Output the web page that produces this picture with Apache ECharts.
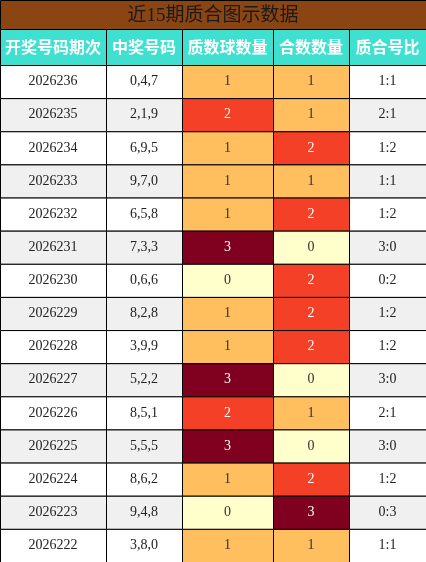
<!DOCTYPE html>
<html><head><meta charset="utf-8">
<script src="https://cdn.jsdelivr.net/npm/echarts@6/dist/echarts.min.js"></script>
<style>html,body{margin:0;padding:0;background:#fff}#c{width:426px;height:562px}</style>
</head><body><div id="c"></div>
<script>
const titleText = '近15期质合图示数据';
const headers = ['开奖号码期次','中奖号码','质数球数量','合数数量','质合号比'];
const periods = ['2026236','2026235','2026234','2026233','2026232','2026231','2026230','2026229','2026228','2026227','2026226','2026225','2026224','2026223','2026222'];
const numbers = ['0,4,7','2,1,9','6,9,5','9,7,0','6,5,8','7,3,3','0,6,6','8,2,8','3,9,9','5,2,2','8,5,1','5,5,5','8,6,2','9,4,8','3,8,0'];
const primeCounts = [1,2,1,1,1,3,0,1,1,3,2,3,1,0,1];
const compositeCounts = [1,1,2,1,2,0,2,2,2,0,1,0,2,3,1];
const ratios = ['1:1','2:1','1:2','1:1','1:2','3:0','0:2','1:2','1:2','3:0','2:1','3:0','1:2','0:3','1:1'];

const colEdges = [0,106,182,273,349,426];
const headerH = 36/33.13;
const countColor = {0:'#FFFFCC',1:'#FFBF5F',2:'#F44027',3:'#800020'};
const countText = {0:'#333',1:'#333',2:'#fff',3:'#fff'};

const data = [];
headers.forEach((h,c)=>data.push([c,-1,h,'#40E0D0','#fff',true]));
periods.forEach((p,r)=>{
  const bg = r%2===0?'#ffffff':'#F0F0F0';
  data.push([0,r,p,bg,'#222',false]);
  data.push([1,r,numbers[r],bg,'#222',false]);
  data.push([2,r,String(primeCounts[r]),countColor[primeCounts[r]],countText[primeCounts[r]],false]);
  data.push([3,r,String(compositeCounts[r]),countColor[compositeCounts[r]],countText[compositeCounts[r]],false]);
  data.push([4,r,ratios[r],bg,'#222',false]);
});

const chart = echarts.init(document.getElementById('c'));
chart.setOption({
  animation:false,
  graphic:[{type:'rect',left:0,top:0,shape:{width:426,height:29},style:{fill:'#8B4513',stroke:'#000',lineWidth:1}}],
  title:{text:titleText,left:'center',top:2,textStyle:{fontSize:19,fontWeight:'normal',color:'#1a1a1a',fontFamily:'Liberation Serif, Noto Sans CJK SC'}},
  grid:{left:0,right:0,top:29,bottom:0},
  xAxis:{type:'value',min:0,max:426,show:false},
  yAxis:{type:'value',min:-headerH,max:15,inverse:true,show:false},
  series:[{
    type:'custom',
    data:data,
    renderItem:(params,api)=>{
      const c=api.value(0), r=api.value(1);
      const d=data[params.dataIndex];
      const y0 = r<0?-headerH:r, y1=r<0?0:r+1;
      const p0=api.coord([colEdges[c],y0]), p1=api.coord([colEdges[c+1],y1]);
      return {type:'group',children:[
        {type:'rect',shape:{x:p0[0]+0.5,y:p0[1]+0.5,width:p1[0]-p0[0],height:p1[1]-p0[1]},style:{fill:d[3],stroke:'#000',lineWidth:1}},
        {type:'text',style:{x:(p0[0]+p1[0])/2,y:(p0[1]+p1[1])/2,text:d[2],align:'center',verticalAlign:'middle',fill:d[4],
          font: d[5]?'bold 16px "Noto Sans CJK SC"':'14px "Liberation Serif", "DejaVu Serif"'}}
      ]};
    }
  }]
});
</script></body></html>
